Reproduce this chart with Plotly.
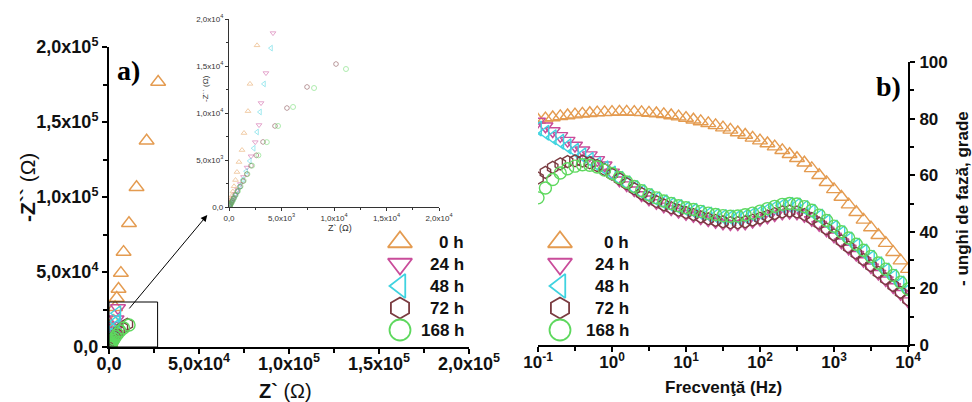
import plotly.graph_objects as go

W, H = 972, 402

# ---------------------------------------------------------------- data
labels = ["0 h", "24 h", "48 h", "72 h", "168 h"]

# frequency sweep of the Bode plot (Hz)
freq_hz = [0.1, 0.126, 0.158, 0.2, 0.251, 0.316, 0.398, 0.501, 0.631, 0.794,
           1.0, 1.26, 1.58, 2.0, 2.51, 3.16, 3.98, 5.01, 6.31, 7.94,
           10, 12.6, 15.8, 20, 25.1, 31.6, 39.8, 50.1, 63.1, 79.4,
           100, 126, 158, 200, 251, 316, 398, 501, 631, 794,
           1000, 1260, 1580, 2000, 2510, 3160, 3980, 5010, 6310, 7940, 10000]

# - phase angle (degrees)
phase_0h = [79.5, 80.0, 80.4, 80.8, 81.1, 81.4, 81.7, 81.9, 82.1, 82.2,
            82.3, 82.4, 82.4, 82.3, 82.2, 82.0, 81.8, 81.5, 81.1, 80.7,
            80.2, 79.6, 79.0, 78.3, 77.6, 76.8, 76.0, 75.1, 74.2, 73.2,
            72.2, 71.2, 70.1, 68.8, 67.4, 66.0, 64.4, 62.4, 60.0, 57.5,
            55.0, 52.3, 49.6, 46.9, 44.2, 41.5, 38.8, 36.0, 32.8, 29.8, 26.8]
phase_24h = [79.0, 77.3, 75.6, 73.9, 72.2, 70.5, 68.8, 67.1, 65.4, 63.5,
             61.0, 58.2, 56.5, 54.7, 53.0, 51.5, 50.2, 49.0, 48.0, 47.1,
             46.3, 45.6, 44.8, 44.1, 43.5, 43.0, 42.7, 42.7, 43.0, 43.6,
             44.3, 45.1, 45.9, 46.5, 46.8, 46.5, 45.6, 44.2, 42.5, 40.5,
             38.4, 36.3, 34.1, 31.9, 29.7, 27.5, 25.2, 22.9, 20.5, 18.1, 15.5]
phase_48h = [76.5, 75.0, 73.4, 71.8, 70.2, 68.6, 67.0, 65.4, 63.8, 62.4,
             60.6, 58.7, 57.1, 55.5, 54.0, 52.6, 51.5, 50.4, 49.5, 48.7,
             48.0, 47.4, 46.7, 46.1, 45.6, 45.2, 45.0, 45.1, 45.5, 46.1,
             46.8, 47.7, 48.5, 49.2, 49.5, 49.3, 48.4, 47.1, 45.4, 43.5,
             41.5, 39.5, 37.3, 35.1, 33.0, 30.8, 28.5, 26.3, 24.1, 21.7, 19.3]
phase_72h = [59.0, 61.0, 62.8, 64.0, 64.8, 65.1, 65.0, 64.4, 63.4, 62.0,
             60.4, 58.7, 57.0, 55.2, 53.5, 52.0, 50.7, 49.5, 48.5, 47.6,
             46.8, 46.1, 45.3, 44.6, 44.0, 43.5, 43.2, 43.2, 43.5, 44.1,
             44.8, 45.6, 46.4, 47.0, 47.3, 47.0, 46.1, 44.7, 43.0, 41.0,
             38.9, 36.8, 34.6, 32.4, 30.2, 28.0, 25.7, 23.4, 21.0, 18.6, 16.0]
phase_168h = [52.0, 55.5, 58.5, 60.8, 62.3, 63.2, 63.7, 63.5, 62.9, 61.8,
              60.6, 59.2, 57.6, 56.0, 54.5, 53.1, 52.0, 50.9, 50.0, 49.2,
              48.5, 47.9, 47.2, 46.6, 46.1, 45.7, 45.5, 45.6, 46.0, 46.6,
              47.3, 48.2, 49.0, 49.7, 50.0, 49.8, 48.9, 47.6, 45.9, 44.0,
              42.0, 40.0, 37.8, 35.6, 33.5, 31.3, 29.0, 26.8, 24.6, 22.2, 19.8]

# Nyquist data: Z' and -Z'' (ohm)
zre_0h = [27300, 20900, 15300, 11100, 8100, 6600, 5300, 4300, 3400, 2670, 2000, 1810,
          1430, 1240, 950, 760, 620, 480, 370, 280, 200, 140, 100, 70]
zim_0h = [176700, 137500, 106500, 82500, 63300, 49300, 38700, 32700, 26500, 17200, 13100, 10200,
          7870, 6060, 4790, 3720, 2870, 2200, 1650, 1200, 850, 580, 380, 240]
zre_24h = [5000, 4190, 3520, 3050, 2860, 2500, 2100, 1720, 1380, 1080, 830, 630, 470, 350,
           250, 175, 120, 80, 55]
zim_24h = [26000, 18500, 14250, 11060, 8720, 6900, 5400, 4200, 3200, 2450, 1850, 1380, 1020, 740,
           530, 370, 250, 160, 100]
zre_48h = [4600, 4000, 3330, 2950, 2670, 2350, 1980, 1630, 1320, 1040, 800, 610, 455, 335,
           240, 170, 115, 78, 52]
zim_48h = [22500, 16900, 13090, 10110, 7980, 6250, 4900, 3800, 2930, 2230, 1680, 1250, 920, 670,
           480, 335, 225, 145, 90]
zre_72h = [10190, 7430, 5520, 4380, 3240, 2600, 2100, 1700, 1350, 1050, 800, 600, 450, 330,
           240, 170, 120, 80, 55]
zim_72h = [15210, 12770, 10530, 8620, 6920, 5500, 4400, 3500, 2750, 2150, 1650, 1250, 930, 680,
           490, 340, 230, 150, 95]
zre_168h = [11140, 8100, 6100, 4670, 3600, 2800, 2200, 1750, 1400, 1100, 850, 650, 490, 370,
            270, 190, 135, 95, 65]
zim_168h = [14680, 12660, 10640, 8620, 6900, 5500, 4400, 3500, 2800, 2200, 1700, 1300, 970, 720,
            520, 370, 260, 175, 110]

# axis tick labels
nyq_ticks = [0, 50000, 100000, 150000, 200000]
nyq_ticktext = ["0,0", "5,0x10<sup>4</sup>", "1,0x10<sup>5</sup>", "1,5x10<sup>5</sup>", "2,0x10<sup>5</sup>"]
inset_ticks = [0, 5000, 10000, 15000, 20000]
inset_ticktext = ["0,0", "5,0x10<sup>3</sup>", "1,0x10<sup>4</sup>", "1,5x10<sup>4</sup>", "2,0x10<sup>4</sup>"]
freq_ticks = [0.1, 1, 10, 100, 1000, 10000]
freq_ticktext = ["10<sup>-1</sup>", "10<sup>0</sup>", "10<sup>1</sup>", "10<sup>2</sup>",
                 "10<sup>3</sup>", "10<sup>4</sup>"]
phase_ticks = [0, 20, 40, 60, 80, 100]

# ---------------------------------------------------------------- styles
colors = ["#E49B50", "#C94C9A", "#3FD3E0", "#7A3B40", "#5ED85E"]
symbols = ["triangle-up-open", "triangle-down-open", "triangle-left-open",
           "hexagon-open", "circle-open"]
sizes_main = [13, 13, 13, 12, 12]
SANS = "Liberation Sans, Arial, sans-serif"
SERIF = "Liberation Serif, Times New Roman, serif"


def fx(p):
    return p / W


def fy(p):
    return 1 - p / H


def label(px, py, text, size, family=SANS, color="#111", angle=0, xanchor="center"):
    fig.add_annotation(x=fx(px), y=fy(py), xref="paper", yref="paper", text=text,
                       showarrow=False, xanchor=xanchor, yanchor="middle", textangle=angle,
                       font=dict(family=family, size=size, color=color))


phases = [phase_0h, phase_24h, phase_48h, phase_72h, phase_168h]
zre = [zre_0h, zre_24h, zre_48h, zre_72h, zre_168h]
zim = [zim_0h, zim_24h, zim_48h, zim_72h, zim_168h]

fig = go.Figure()

for i in range(5):
    mk = dict(symbol=symbols[i], size=sizes_main[i], color=colors[i], line=dict(width=1.4))
    fig.add_trace(go.Scatter(x=zre[i], y=zim[i], mode="markers", xaxis="x", yaxis="y",
                             marker=mk, showlegend=False, name=labels[i]))
    fig.add_trace(go.Scatter(x=zre[i], y=zim[i], mode="markers", xaxis="x2", yaxis="y2",
                             marker=dict(symbol=symbols[i], size=5, color=colors[i],
                                         line=dict(width=0.9)),
                             opacity=0.55, showlegend=False, name=labels[i]))
    fig.add_trace(go.Scatter(x=freq_hz, y=phases[i], mode="markers", xaxis="x3", yaxis="y3",
                             marker=mk, showlegend=False, name=labels[i]))

# legend keys drawn on a full-figure pixel overlay
legend_rows = [242, 264, 286, 308, 330]
for key_x, text_right in [(400, 466), (560, 631)]:
    for i in range(5):
        fig.add_trace(go.Scatter(x=[key_x], y=[legend_rows[i]], mode="markers",
                                 xaxis="x4", yaxis="y4", showlegend=False,
                                 marker=dict(symbol=symbols[i], size=21, color=colors[i],
                                             line=dict(width=1.8))))
        label(text_right, legend_rows[i], "<b>%s</b>" % labels[i], 17, xanchor="right")

main_axis = dict(showline=True, linewidth=2, linecolor="black", ticks="outside",
                 ticklen=5, tickwidth=2, tickcolor="black", showgrid=False, zeroline=False,
                 automargin=False,
                 tickfont=dict(family=SANS, size=18, color="#111", weight="bold"))
inset_axis = dict(showline=True, linewidth=1.2, linecolor="#333", ticks="outside", ticklen=3,
                  tickwidth=1, tickcolor="#333", showgrid=False, zeroline=False,
                  automargin=False, range=[0, 20000],
                  tickmode="array", tickvals=inset_ticks, ticktext=inset_ticktext,
                  tickfont=dict(family=SANS, size=8, color="#333"),
                  minor=dict(ticks="outside", ticklen=2, tickwidth=1, tickcolor="#333",
                             dtick=2500, tick0=0))

fig.update_layout(
    width=W, height=H, margin=dict(l=0, r=0, t=0, b=0, autoexpand=False),
    paper_bgcolor="white", plot_bgcolor="rgba(0,0,0,0)",
    xaxis=dict(main_axis, domain=[fx(109), fx(469)], range=[0, 200000], anchor="y",
               tickmode="array", tickvals=nyq_ticks, ticktext=nyq_ticktext,
               ticklabelstandoff=-6,
               minor=dict(ticks="outside", ticklen=4, tickwidth=1.5, tickcolor="black",
                          dtick=25000, tick0=0)),
    yaxis=dict(main_axis, domain=[fy(347), fy(47)], range=[0, 200000], anchor="x",
               tickmode="array", tickvals=nyq_ticks, ticktext=nyq_ticktext,
               minor=dict(ticks="outside", ticklen=4, tickwidth=1.5, tickcolor="black",
                          dtick=25000, tick0=0)),
    xaxis2=dict(inset_axis, domain=[fx(229), fx(439)], anchor="y2"),
    yaxis2=dict(inset_axis, domain=[fy(207), fy(19)], anchor="x2"),
    xaxis3=dict(main_axis, type="log", domain=[fx(538), fx(908)], range=[-1, 4], anchor="y3",
                tickmode="array", tickvals=freq_ticks, ticktext=freq_ticktext,
                ticklabelstandoff=-4,
                tickfont=dict(family=SANS, size=17, color="#111", weight="bold"),
                minor=dict(ticks="outside", ticklen=4, tickwidth=1.5, tickcolor="black",
                           tickvals=[0.316, 3.16, 31.6, 316, 3160])),
    yaxis3=dict(main_axis, domain=[fy(345), fy(62)], range=[0, 100], anchor="x3", side="right",
                tickmode="array", tickvals=phase_ticks, ticklabelstandoff=1,
                tickfont=dict(family=SANS, size=17, color="#111", weight="bold"),
                minor=dict(ticks="outside", ticklen=4, tickwidth=1.5, tickcolor="black",
                           dtick=10, tick0=0)),
    xaxis4=dict(domain=[0, 1], range=[0, W], visible=False, anchor="y4", fixedrange=True,
                automargin=False),
    yaxis4=dict(domain=[0, 1], range=[H, 0], visible=False, anchor="x4", fixedrange=True,
                automargin=False),
)

# zoom window on the Nyquist plot and the arrow pointing to the inset
fig.add_shape(type="rect", xref="x", yref="y", x0=0, x1=27000, y0=0, y1=30000,
              line=dict(color="black", width=1))
fig.add_annotation(xref="x", yref="y", axref="x", ayref="y", x=54600, y=88000,
                   ax=10600, ay=24700, text="", showarrow=True, arrowhead=2,
                   arrowsize=1.3, arrowwidth=1, arrowcolor="black")

# panel letters
label(128, 70, "<b>a)</b>", 28, family=SERIF, color="black")
label(888, 87, "<b>b)</b>", 28, family=SERIF, color="black")

# axis titles
label(27, 188, "<b>-Z``</b> (Ω)", 21, angle=-90)
label(285, 391, "<b>Z`</b> (Ω)", 20)
label(723, 387, "<b>Frecvenţă (Hz)</b>", 17)
label(962, 199, "<b>- unghi de fază, grade</b>", 17, angle=-90)
label(340, 228, "Z` (Ω)", 9, color="#333")
label(206, 89, "-Z`` (Ω)", 8, color="#333", angle=-90)

fig.write_html("out.html")
